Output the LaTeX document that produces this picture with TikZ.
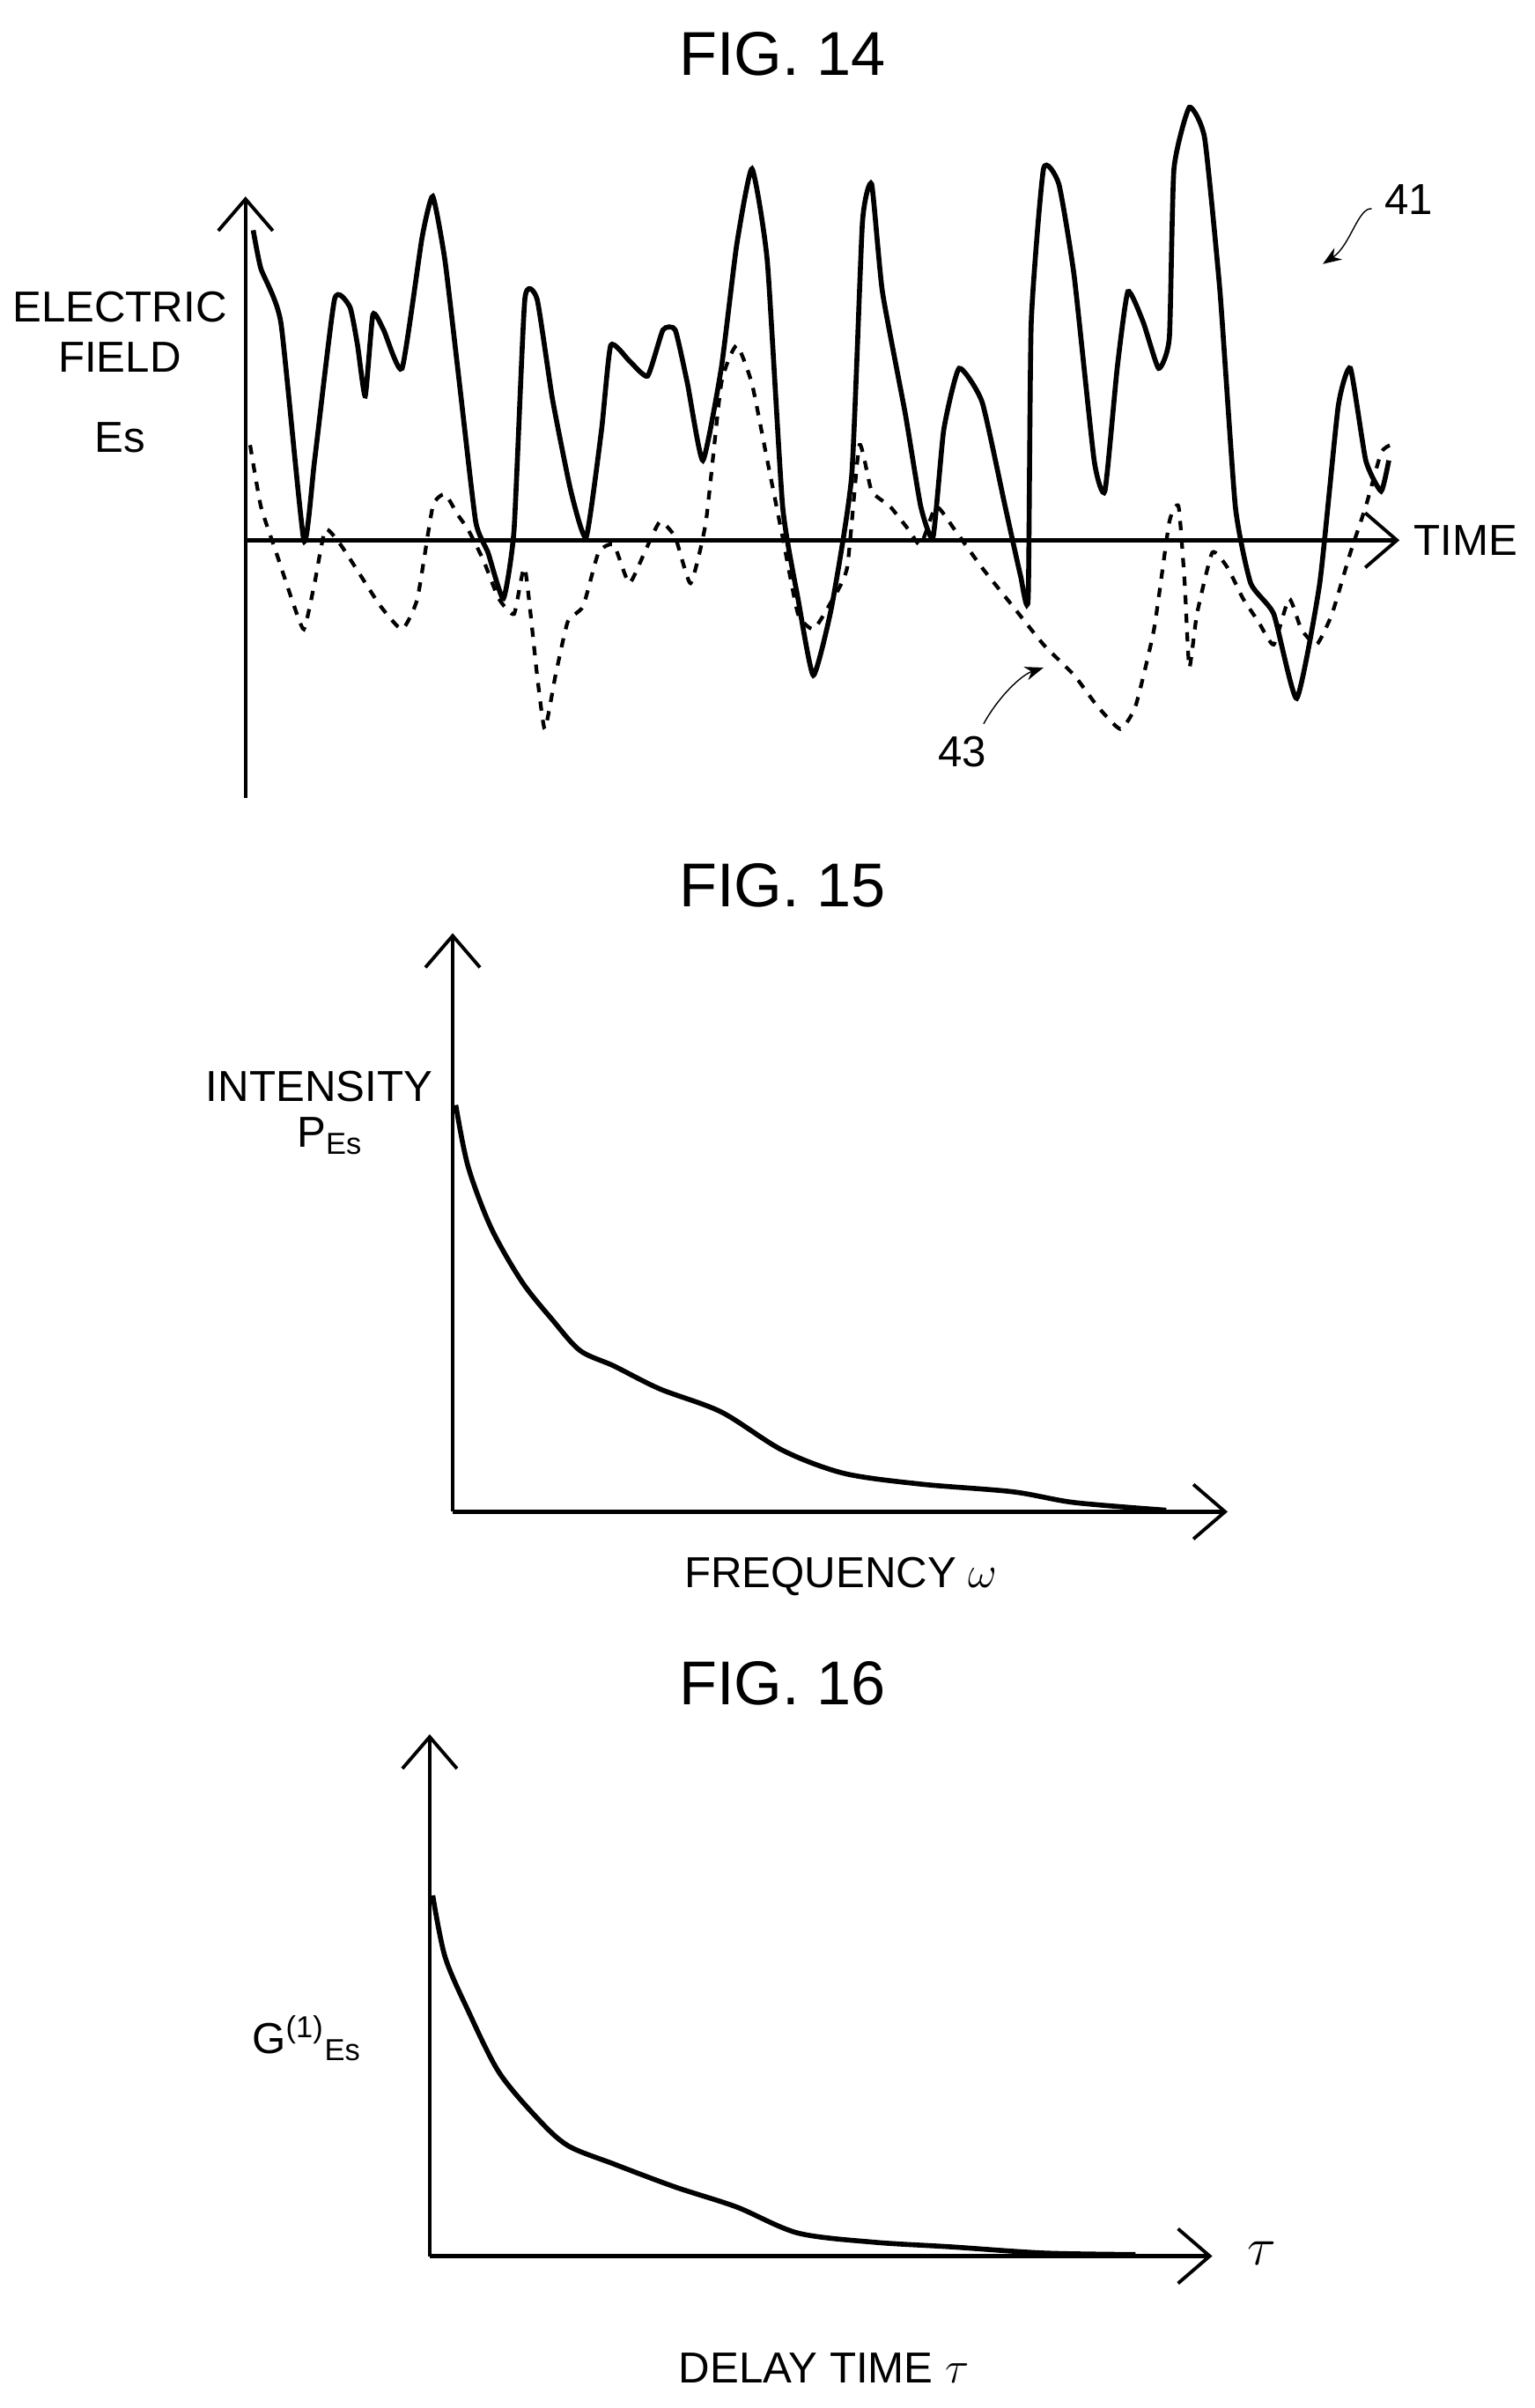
\documentclass[tikz,border=0pt]{standalone}
\usepackage{fontspec}
\setmainfont{Liberation Sans}
\usetikzlibrary{arrows.meta}
\tikzset{
  axis/.style={line width=1.3pt,-{Straight Barb[length=0.36cm,width=0.62cm,line width=1.1pt]}},
  curve/.style={line width=1.6pt},
  lbl/.style={font=\fontsize{14}{16}\selectfont,inner sep=0pt},
  ttl/.style={font=\fontsize{20}{22}\selectfont,inner sep=0pt}
}
\begin{document}
\begin{tikzpicture}[x=0.01742cm,y=-0.01742cm]
    \useasboundingbox (0,0) rectangle (1000,1569);

    % FIG. 14
    \node[ttl] (t14) at (510,35) {FIG. 14};
    \draw[axis] (160,520) -- (160,128);
    \draw[axis] (160,352) -- (912,352);
    \node[lbl] (ef) at (78,200) {ELECTRIC};
    \node[lbl] (fd) at (78,233) {FIELD};
    \node[lbl] (es) at (78,285) {Es};
    \node[lbl] (time) at (955,352) {TIME};
    \draw[curve] plot[smooth,tension=0.3] coordinates {
        (165,150) (170,175) (183,210) (198,352) (205,300) (218,195) (228,200)
        (233,225) (238,258) (243,205) (250,215) (262,240) (275,155) (282,128)
        (290,170) (300,255) (310,340) (318,360) (328,390) (335,345) (342,195)
        (350,195) (360,260) (372,320) (382,350) (392,280) (398,225) (410,235)
        (422,245) (432,215) (440,215) (448,250) (458,300) (470,240) (480,160)
        (490,110) (500,170) (510,330) (520,390) (530,440) (542,395) (555,310)
        (562,145) (568,120) (575,190) (590,270) (600,330) (608,350) (615,280)
        (625,240) (640,262) (655,330) (665,375) (670,390) (672,210) (680,110)
        (690,120) (700,180) (713,300) (720,320) (728,240) (735,190) (745,210)
        (755,240) (762,220) (765,110) (775,70) (785,90) (795,190) (805,330)
        (815,380) (830,400) (845,455) (860,380) (872,265) (880,240) (890,300)
        (900,320) (905,300)
    };
    \draw[curve,dashed,line width=1.2pt] plot[smooth,tension=0.3] coordinates {
        (163,290) (170,330) (180,360) (190,390) (198,410) (205,380) (212,345)
        (222,355) (235,375) (248,395) (262,410) (272,390) (282,330) (290,322)
        (298,335) (305,345) (315,365) (325,390) (335,400) (342,370) (350,440)
        (355,475) (362,440) (370,405) (380,395) (390,360) (400,355) (410,380)
        (420,360) (430,340) (440,350) (450,380) (460,340) (470,250) (480,225)
        (490,250) (500,300) (510,350) (520,400) (530,410) (540,395) (552,370)
        (560,290) (568,320) (580,330) (592,345) (600,355) (610,330) (622,345)
        (640,370) (660,395) (680,420) (700,440) (715,460) (730,475) (740,460)
        (752,410) (762,340) (768,330) (772,380) (775,435) (780,400) (790,360)
        (800,370) (810,390) (820,405) (830,420) (840,390) (848,410) (858,420)
        (868,400) (880,360) (890,330) (900,295) (906,290)
    };
    \node[lbl] (n41) at (918,130) {41};
    \coordinate (p41) at (862,172);
    \draw[-{Stealth[length=6pt]}] (n41.west) ++(-8,6) .. controls (885,135) and (880,160) .. (p41);
    \node[lbl] (n43) at (627,490) {43};
    \coordinate (p43) at (680,435);
    \draw[-{Stealth[length=6pt]}] (n43.north) ++(14,-8) .. controls (650,455) and (665,440) .. (p43);

    % FIG. 15
    \node[ttl] (t15) at (510,577) {FIG. 15};
    \draw[axis] (295,985) -- (295,608);
    \draw[axis] (295,985) -- (800,985);
    \node[lbl] (int) at (208,708) {INTENSITY};
    \node[lbl] (pes) at (215,740) {P\textsubscript{Es}};
    \node[lbl] (freq) at (548,1027) {FREQUENCY $\omega$};
    \draw[curve] plot[smooth,tension=0.5] coordinates {
        (297,720) (305,760) (320,800) (340,835) (360,860) (378,880) (400,890)
        (430,905) (470,920) (510,945) (550,960) (600,967) (660,972) (700,979)
        (760,984)
    };

    % FIG. 16
    \node[ttl] (t16) at (510,1097) {FIG. 16};
    \draw[axis] (280,1470) -- (280,1130);
    \draw[axis] (280,1470) -- (790,1470);
    \node[lbl] (ges) at (200,1328) {G\textsuperscript{(1)}\textsubscript{Es}};
    \node[lbl,font=\fontsize{18}{20}\selectfont] (tau) at (822,1468) {$\tau$};
    \node[lbl] (delay) at (537,1543) {DELAY TIME $\tau$};
    \draw[curve] plot[smooth,tension=0.5] coordinates {
        (282,1235) (290,1275) (305,1310) (325,1350) (350,1380) (370,1398)
        (400,1410) (440,1425) (480,1438) (520,1455) (570,1461) (620,1464)
        (680,1468) (740,1469)
    };
\end{tikzpicture}
\end{document}
